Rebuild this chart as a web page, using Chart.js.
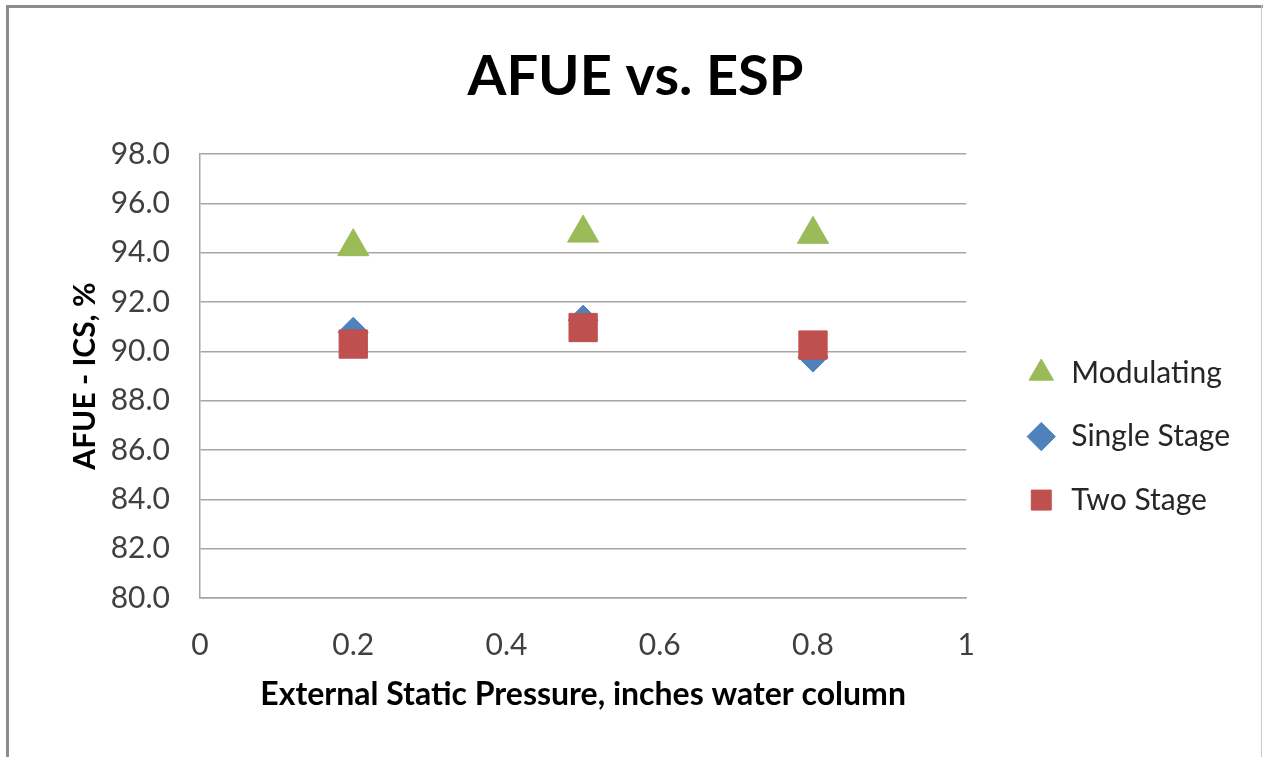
<!DOCTYPE html>
<html>
<head>
<meta charset="utf-8">
<script src="https://cdn.jsdelivr.net/npm/chart.js@4"></script>
<style>
  body { margin: 0; background: #fff; overflow: hidden; }
  #wrap { position: relative; width: 1263px; height: 757px; }
  canvas { position: absolute; left: 0; top: 0; }
  .edge { position: absolute; background: #8c8c8c; }
</style>
</head>
<body>
<div id="wrap">
  <canvas id="chart" width="1263" height="757"></canvas>
  <div class="edge" style="left:6px;top:5px;width:1257px;height:3px"></div>
  <div class="edge" style="left:6px;top:5px;width:3px;height:752px"></div>
  <div class="edge" style="left:1261px;top:5px;width:1px;height:752px;background:#c8c8c8"></div>
</div>
<script>
// ESP, inches water column
var espValues = [0.2, 0.5, 0.8]
// AFUE - ICS, %
var modulating = [94.25, 94.8, 94.75]
var singleStage = [90.78, 91.27, 89.77]
var twoStage = [90.3, 90.97, 90.26]
var seriesNames = ["Modulating", "Single Stage", "Two Stage"]

function pts(ys) {
	var out = []
	for (var i = 0; i < espValues.length; i++) {
		out.push({ x: espValues[i], y: ys[i] })
	}
	return out
}

Chart.defaults.font.family = "Lato"
var gridGrey = "#a6a6a6"

var data = {
	datasets: [{
		label: seriesNames[0],
		data: pts(modulating),
		pointStyle: "triangle",
		pointRadius: 18,
		backgroundColor: "#9bbb59",
		borderColor: "#9bbb59",
		pointBorderWidth: 1,
		order: 0
	}, {
		label: seriesNames[1],
		data: pts(singleStage),
		pointStyle: "rectRot",
		pointRadius: 15,
		backgroundColor: "#4f81bd",
		borderColor: "#4f81bd",
		pointBorderWidth: 1,
		order: 2
	}, {
		label: seriesNames[2],
		data: pts(twoStage),
		pointStyle: "rect",
		pointRadius: 20,
		backgroundColor: "#c0504d",
		borderColor: "#c0504d",
		pointBorderWidth: 1,
		order: 1
	}]
}

new Chart(document.getElementById("chart"), {
	type: "scatter",
	data: data,
	options: {
		responsive: false,
		animation: false,
		layout: { padding: { left: 31, top: 8, right: 23, bottom: 42.8 } },
		plugins: {
			tooltip: { enabled: false },
			title: {
				display: true,
				text: "AFUE vs. ESP",
				color: "#000",
				font: { size: 56, weight: "bold" },
				padding: { top: 35, bottom: 44 }
			},
			legend: {
				position: "right",
				fullSize: false,
				align: "center",
				title: { display: true, text: "", font: { size: 10 }, padding: { top: 109, bottom: 0 } },
				labels: {
					usePointStyle: true,
					boxHeight: 20,
					padding: 33.5,
					color: "#262626",
					font: { size: 30 },
					sort: function(a, b) { return a.datasetIndex - b.datasetIndex }
				}
			}
		},
		scales: {
			x: {
				type: "linear",
				min: 0,
				max: 1,
				ticks: {
					stepSize: 0.2,
					padding: 29,
					color: "#404040",
					font: { size: 30 },
					callback: function(v) { return String(+v.toFixed(1)) }
				},
				grid: { display: false, drawTicks: false },
				border: { display: true, color: gridGrey, width: 1.5 },
				title: {
					display: true,
					text: "External Static Pressure, inches water column",
					color: "#000",
					font: { size: 32, weight: "bold" },
					padding: { top: -16.2, bottom: 0 }
				}
			},
			y: {
				type: "linear",
				min: 80,
				max: 98,
				ticks: {
					stepSize: 2,
					padding: 30,
					color: "#404040",
					font: { size: 30 },
					callback: function(v) { return v.toFixed(1) }
				},
				grid: { color: gridGrey, lineWidth: 1.5, drawTicks: false },
				border: { display: true, color: gridGrey, width: 1.5 },
				title: {
					display: true,
					text: "AFUE - ICS, %",
					color: "#000",
					font: { size: 30, weight: "bold" },
					padding: { top: 36, bottom: 0 }
				},
				afterFit: function(s) { s.width = 169 }
			},
			gap: {
				type: "linear",
				position: "right",
				display: false,
				afterFit: function(s) { s.width = 26.5 }
			}
		}
	}
})
</script>
</body>
</html>
